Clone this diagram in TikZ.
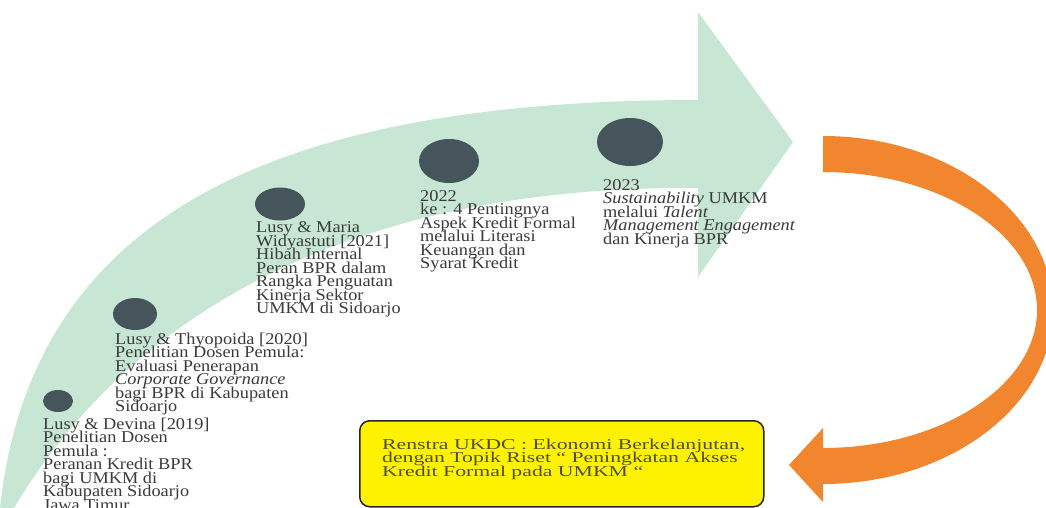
\documentclass[tikz,border=0pt]{standalone}
\usepackage{fontspec}
\setmainfont{Liberation Serif}[FakeStretch=1.11]
\newfontfamily\renstrafont{Liberation Serif}[FakeStretch=1.45]
\usetikzlibrary{shapes.geometric}
\setlength{\lineskiplimit}{-50pt}

\definecolor{mint}{RGB}{200,230,212}
\definecolor{slate}{RGB}{70,84,92}
\definecolor{tangerine}{RGB}{241,134,46}
\definecolor{lemon}{RGB}{255,242,0}
\definecolor{inkgrey}{RGB}{58,58,58}
\definecolor{boxink}{RGB}{78,78,50}

\tikzset{
    yeardot/.style={ellipse, fill=slate, inner sep=0pt},
    entry/.style={anchor=base west, align=left, inner sep=0pt, text=inkgrey,
        font=\fontsize{16.5}{13.45}\selectfont},
}

\begin{document}
\begin{tikzpicture}[x=1pt,y=-1pt]
                \useasboundingbox (0,0) rectangle (1046,508);
                \clip (0,0) rectangle (1046,508);
                % green arrow
                \fill[mint] (0,508) .. controls (30,230) and (250,100) .. (698,100)
                    -- (698,12) -- (793,142) -- (698,277) -- (698,188)
                    .. controls (330,185) and (120,330) .. (14,508) -- cycle;
                % orange arrow
                \fill[tangerine] (823,136) .. controls (949,136) and (1053,214) .. (1053,310)
                    .. controls (1053,406) and (949,484) .. (823,484)
                    -- (823,502) -- (789,465) -- (823,428) -- (823,448)
                    .. controls (940,448) and (1037,386) .. (1037,310)
                    .. controls (1037,234) and (940,172) .. (823,172) -- cycle;
                \foreach \n/\x/\y/\w/\h in {1/58/401/30/22, 2/135/314/44/32, 3/280/204/50/33,
                                            4/449/161/60/44, 5/630/142/66/48}{
                    \node[yeardot, minimum width=\w pt, minimum height=\h pt] (dot\n) at (\x,\y) {};
                }
                % last baselines
                \node[entry] (entry2019) at (43,510) {Lusy \& Devina [2019]\\Penelitian Dosen\\Pemula :\\Peranan Kredit BPR\\bagi UMKM di\\Kabupaten Sidoarjo\\Jawa Timur};
                \node[entry] (entry2020) at (115,411.5) {Lusy \& Thyopoida [2020]\\Penelitian Dosen Pemula:\\Evaluasi Penerapan\\\textit{Corporate Governance}\\bagi BPR di Kabupaten\\Sidoarjo};
                \node[entry] (entry2021) at (256,313.5) {Lusy \& Maria\\Widyastuti [2021]\\Hibah Internal\\Peran BPR dalam\\Rangka Penguatan\\Kinerja Sektor\\UMKM di Sidoarjo};
                \node[entry] (entry2022) at (420,268.5) {2022\\ke : 4 Pentingnya\\Aspek Kredit Formal\\melalui Literasi\\Keuangan dan\\Syarat Kredit};
                \node[entry] (entry2023) at (603,244) {2023\\\textit{Sustainability} UMKM\\melalui \textit{Talent}\\\textit{Management Engagement}\\dan Kinerja BPR};
                % renstra box
                \node[draw=black!85, line width=1.5pt, fill=lemon, rounded corners=10pt,
                    minimum width=404pt, minimum height=86pt, anchor=north west, inner sep=0pt] (renstra) at (359,420) {};
                \node[anchor=base west, align=left, inner sep=0pt, text=boxink,
                    font=\renstrafont\fontsize{15}{13.5}\selectfont] (renstratext) at (382,476)
                    {Renstra UKDC : Ekonomi Berkelanjutan,\\dengan Topik Riset “ Peningkatan Akses\\Kredit Formal pada UMKM “};
            \end{tikzpicture}
\end{document}
